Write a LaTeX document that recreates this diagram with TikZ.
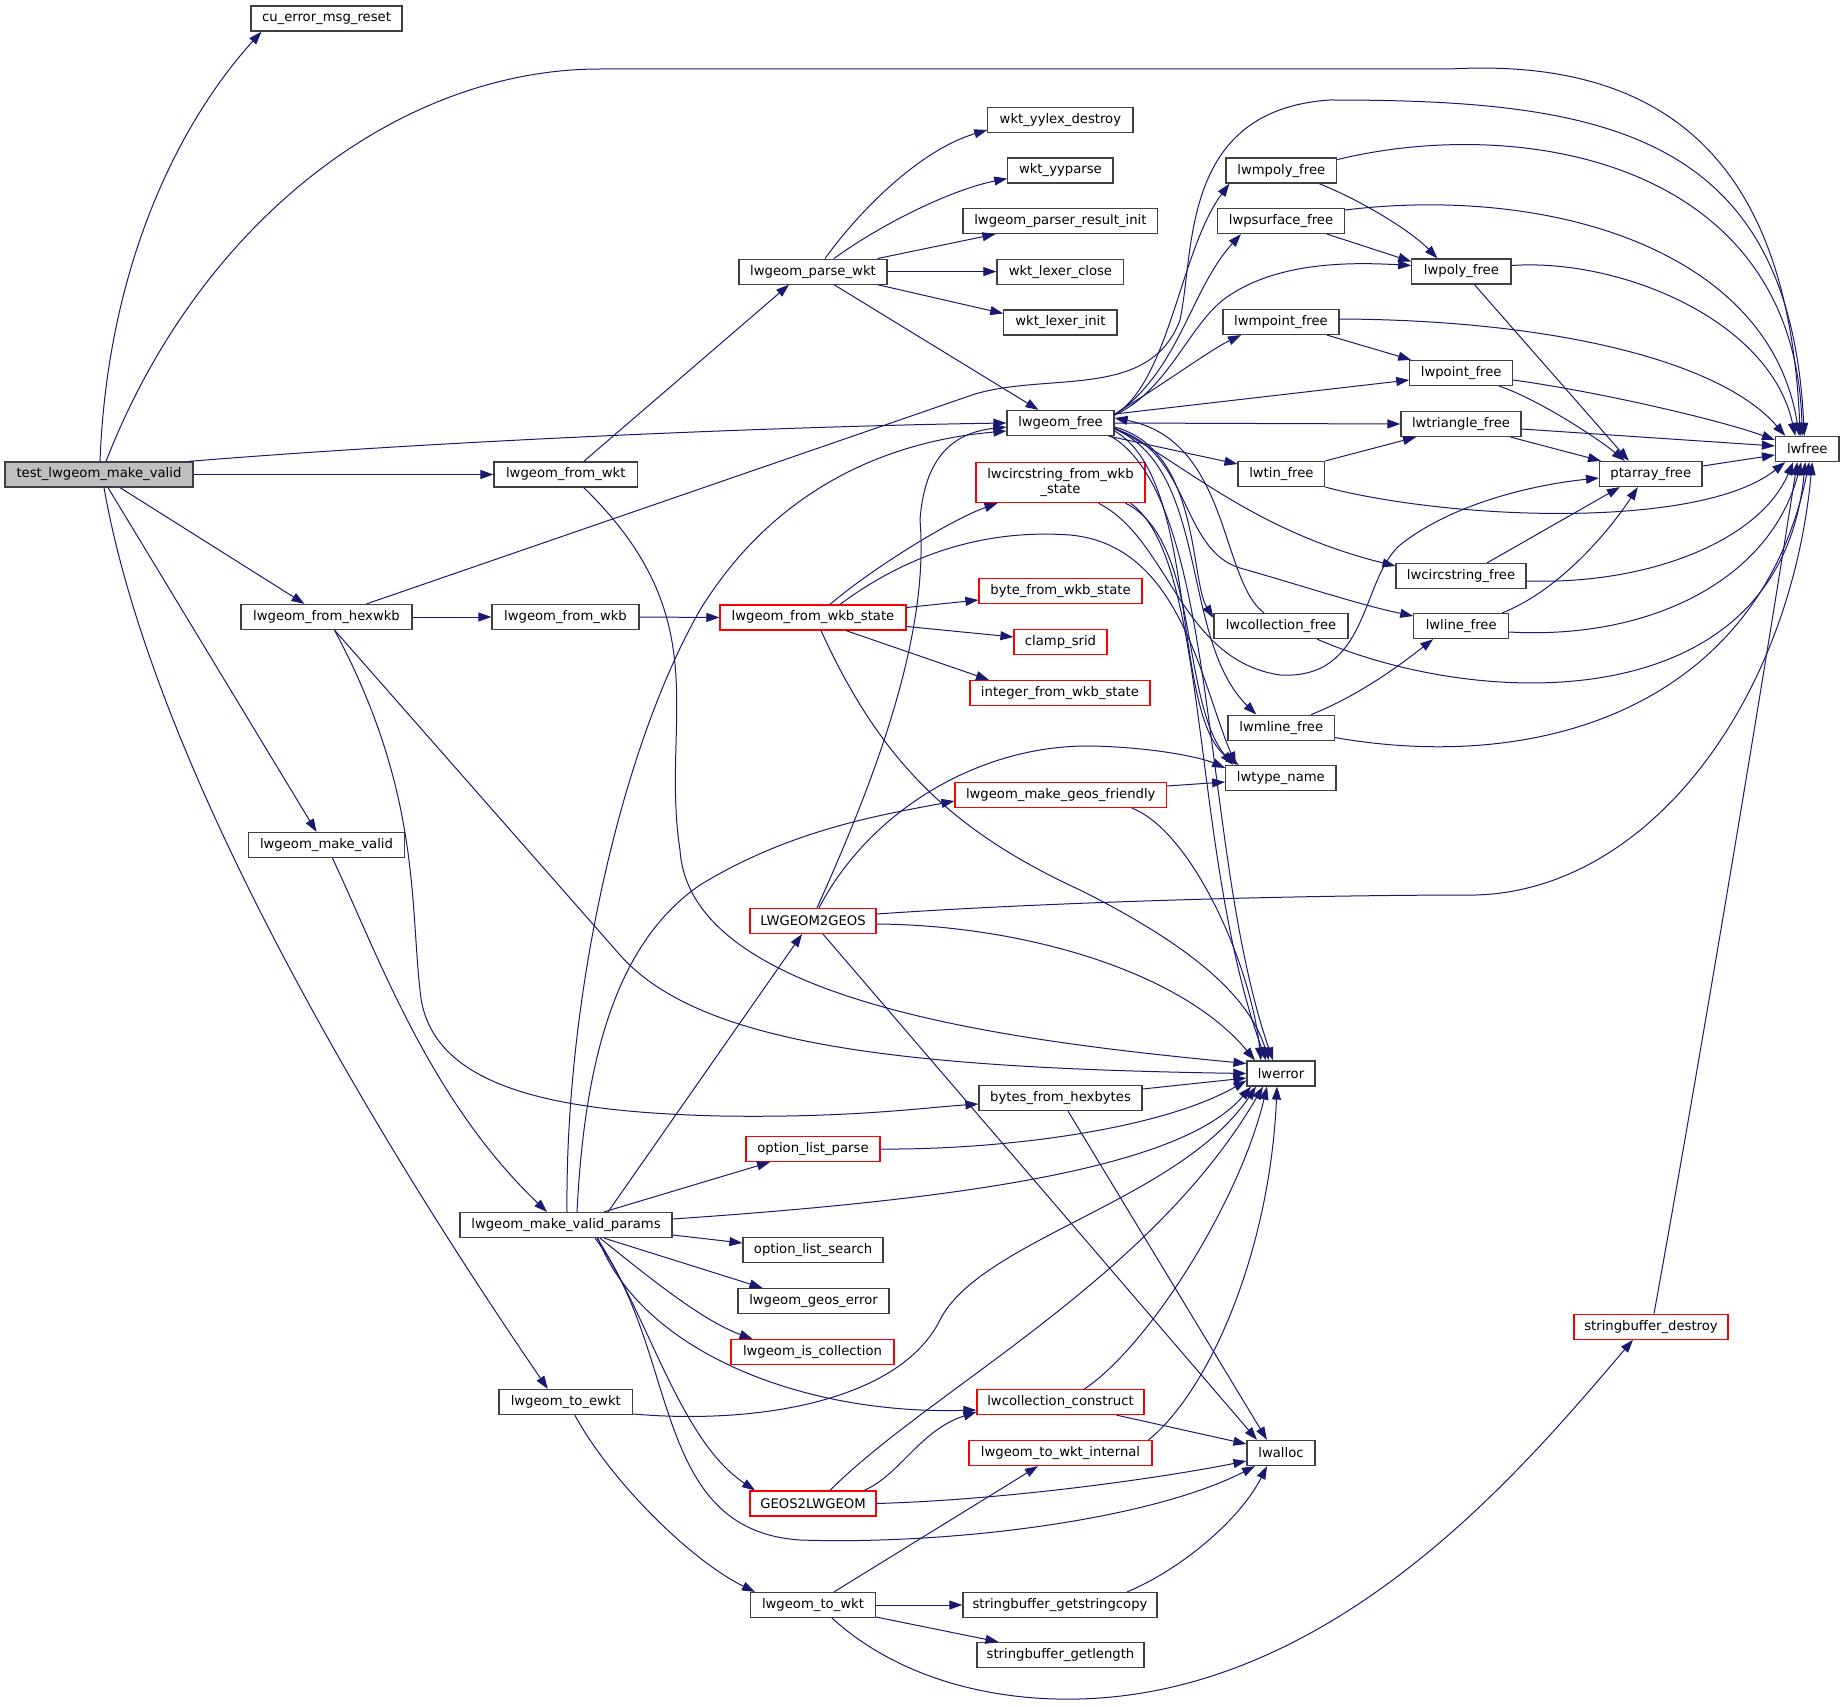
\documentclass[tikz,border=0pt]{standalone}
\usepackage{fontspec}
\usetikzlibrary{arrows.meta}
\newfontfamily\dv{DejaVu Sans}
\definecolor{nodeborder}{HTML}{404040}
\definecolor{edgec}{HTML}{191970}
\definecolor{trunc}{HTML}{FF0000}
\definecolor{rootfill}{HTML}{BFBFBF}
\tikzset{
  nd/.style={draw=nodeborder, fill=white, line width=1.2pt, minimum height=25pt, inner sep=0pt, text=black, font={\dv\fontsize{13.2}{14.5}\selectfont}},
  rn/.style={nd, draw=trunc},
  edg/.style={draw=edgec, line width=1pt, -{Triangle[length=13pt,width=9pt]}}
}
\begin{document}
\begin{tikzpicture}[x=1pt,y=-1pt]
\fill[white] (0,0) rectangle (1844,1707);
\useasboundingbox (0,0) rectangle (1844,1707);
% nodes
\node[nd, fill=rootfill, minimum width=188pt] (t) at (99,474.5) {test\_lwgeom\_make\_valid};
\node[nd, minimum width=151pt] (cu) at (326.5,18.6) {cu\_error\_msg\_reset};
\node[nd, minimum width=143.5pt] (fwkt) at (565.75,474.5) {lwgeom\_from\_wkt};
\node[nd, minimum width=171pt] (hex) at (326.5,617) {lwgeom\_from\_hexwkb};
\node[nd, minimum width=147pt] (fwkb) at (565.5,617) {lwgeom\_from\_wkb};
\node[nd, minimum width=156pt] (mv) at (326.5,845) {lwgeom\_make\_valid};
\node[nd, minimum width=212pt] (mvp) at (566,1225) {lwgeom\_make\_valid\_params};
\node[nd, minimum width=133.6pt] (ewkt) at (565.8,1402) {lwgeom\_to\_ewkt};
\node[nd, minimum width=148pt] (pw) at (813,271.6) {lwgeom\_parse\_wkt};
\node[nd, minimum width=145.2pt] (wyd) at (1060.4,120) {wkt\_yylex\_destroy};
\node[nd, minimum width=105.2pt] (wyp) at (1060.4,170.5) {wkt\_yyparse};
\node[nd, minimum width=194.8pt] (pri) at (1060.4,221) {lwgeom\_parser\_result\_init};
\node[nd, minimum width=126.8pt] (wlc) at (1060.4,271.6) {wkt\_lexer\_close};
\node[nd, minimum width=113.2pt] (wli) at (1060.4,322.5) {wkt\_lexer\_init};
\node[nd, minimum width=107pt] (lf) at (1060.5,423) {lwgeom\_free};
\node[rn, minimum width=169pt, minimum height=40pt, align=center] (lcws) at (1060.5,482.6) {lwcircstring\_from\_wkb\\\_state};
\node[rn, minimum width=186pt] (fws) at (813,617.5) {lwgeom\_from\_wkb\_state};
\node[rn, minimum width=163pt] (bfw) at (1060.5,591) {byte\_from\_wkb\_state};
\node[rn, minimum width=93pt] (cs) at (1060.5,642) {clamp\_srid};
\node[rn, minimum width=180pt] (ifw) at (1060,693) {integer\_from\_wkb\_state};
\node[rn, minimum width=211.5pt] (mgf) at (1060.75,795) {lwgeom\_make\_geos\_friendly};
\node[rn, minimum width=126pt] (l2g) at (813,921) {LWGEOM2GEOS};
\node[nd, minimum width=163pt] (bfh) at (1060.5,1098) {bytes\_from\_hexbytes};
\node[rn, minimum width=134pt] (olp) at (813,1149) {option\_list\_parse};
\node[nd, minimum width=140pt] (ols) at (813,1250) {option\_list\_search};
\node[nd, minimum width=151pt] (lge) at (813.5,1301) {lwgeom\_geos\_error};
\node[rn, minimum width=163pt] (lic) at (812.5,1352) {lwgeom\_is\_collection};
\node[rn, minimum width=167pt] (lcc) at (1060.5,1402) {lwcollection\_construct};
\node[rn, minimum width=183pt] (ltwi) at (1060.5,1453) {lwgeom\_to\_wkt\_internal};
\node[rn, minimum width=126pt] (g2l) at (813,1503.5) {GEOS2LWGEOM};
\node[nd, minimum width=125pt] (ltw) at (813,1605) {lwgeom\_to\_wkt};
\node[nd, minimum width=194pt] (sbgc) at (1060,1605) {stringbuffer\_getstringcopy};
\node[nd, minimum width=167pt] (sbgl) at (1060.5,1655) {stringbuffer\_getlength};
\node[nd, minimum width=110.6pt] (lmp) at (1281.3,170.6) {lwmpoly\_free};
\node[nd, minimum width=127pt] (lps) at (1281,221) {lwpsurface\_free};
\node[nd, minimum width=99.2pt] (lpy) at (1461.4,271.5) {lwpoly\_free};
\node[nd, minimum width=116pt] (lmpt) at (1281,322) {lwmpoint\_free};
\node[nd, minimum width=102.7pt] (lpt) at (1461.2,373) {lwpoint\_free};
\node[nd, minimum width=120pt] (ltf) at (1461,424) {lwtriangle\_free};
\node[nd, minimum width=86.7pt] (ltin) at (1281.4,474) {lwtin\_free};
\node[nd, minimum width=102.4pt] (pf) at (1650.8,474) {ptarray\_free};
\node[nd, minimum width=63.5pt] (lwf) at (1807.25,449) {lwfree};
\node[nd, minimum width=130pt] (lcf) at (1461,576) {lwcircstring\_free};
\node[nd, minimum width=134pt] (lcof) at (1281,626) {lwcollection\_free};
\node[nd, minimum width=94.7pt] (llf) at (1461.2,626) {lwline\_free};
\node[nd, minimum width=106.6pt] (lml) at (1281.3,727.6) {lwmline\_free};
\node[nd, minimum width=110.3pt] (ltn) at (1280.85,778) {lwtype\_name};
\node[nd, minimum width=68pt] (lwe) at (1281,1073.5) {lwerror};
\node[nd, minimum width=68pt] (lwa) at (1281,1453) {lwalloc};
\node[rn, minimum width=154pt] (sbd) at (1651,1326.7) {stringbuffer\_destroy};
% edges from test
\draw[edg] ([xshift=1pt]t.north) .. controls (108,250) and (190,110) .. ([xshift=-65pt]cu.south);
\draw[edg] ([xshift=7pt]t.north) .. controls (200,220) and (400,69) .. (600,69) -- (1450,69) .. controls (1700,55) and (1790,200) .. ([xshift=-7pt]lwf.north);
\draw[edg] ([xshift=-5pt]t.north east) .. controls (450,440) and (800,426) .. (lf.west);
\draw[edg] (t.east) -- (fwkt.west);
\draw[edg] ([xshift=21pt]t.south) -- ([xshift=-22pt]hex.north);
\draw[edg] ([xshift=9pt]t.south) -- ([xshift=-10pt]mv.north);
\draw[edg] ([xshift=5pt]t.south) .. controls (150,750) and (350,1100) .. ([xshift=-18pt]ewkt.north);
% from_wkt
\draw[edg] ([xshift=18pt]fwkt.north) -- ([xshift=-24pt]pw.south);
\draw[edg] ([xshift=18pt]fwkt.south) .. controls (720,620) and (660,720) .. (680,850) .. controls (690,1000) and (1000,1040) .. ([yshift=10pt]lwe.west);
% hexwkb
\draw[edg] (hex.east) -- (fwkb.west);
\draw[edg] ([xshift=40pt]hex.north) -- (975,394) .. controls (1050,372) and (1150,400) .. (1180,320) .. controls (1195,250) and (1180,110) .. (1330,100) .. controls (1600,100) and (1790,130) .. ([xshift=-3pt]lwf.north);
\draw[edg] ([xshift=8pt]hex.south) -- (620,955) .. controls (700,1045) and (900,1068) .. (lwe.west);
\draw[edg] ([xshift=8pt]hex.south) .. controls (420,790) and (410,900) .. (420,990) .. controls (428,1090) and (560,1112) .. (720,1116) .. controls (850,1118) and (920,1108) .. ([yshift=-6pt]bfh.west);
% make_valid
\draw[edg] ([xshift=6pt]mv.south) .. controls (380,960) and (430,1100) .. ([xshift=-19pt]mvp.north);
% to_ewkt
\draw[edg] ([yshift=-12pt]ewkt.east) .. controls (760,1425) and (900,1400) .. (940,1320) .. controls (980,1240) and (1180,1200) .. ([xshift=-25pt]lwe.south);
\draw[edg] ([xshift=9pt]ewkt.south) .. controls (610,1480) and (690,1560) .. ([xshift=-58pt]ltw.north);
% make_valid_params
\draw[edg] ([xshift=1pt]mvp.north) .. controls (565,1000) and (620,750) .. (700,610) .. controls (780,480) and (900,440) .. ([yshift=-8pt]lf.west);
\draw[edg] ([xshift=11pt]mvp.north) .. controls (585,1050) and (620,940) .. (700,885) .. controls (790,830) and (880,815) .. ([yshift=-6pt]mgf.west);
\draw[edg] ([xshift=42pt]mvp.north) -- ([xshift=-11pt]l2g.south);
\draw[edg] ([xshift=38pt]mvp.north) -- ([xshift=-43pt]olp.south);
\draw[edg] ([yshift=6pt]mvp.east) .. controls (950,1200) and (1180,1170) .. ([xshift=-30pt]lwe.south);
\draw[edg] ([yshift=-10pt]mvp.east) -- ([yshift=7pt]ols.west);
\draw[edg] ([xshift=38pt]mvp.south) -- ([xshift=-51pt]lge.north);
\draw[edg] ([xshift=34pt]mvp.south) .. controls (640,1270) and (700,1320) .. ([xshift=-60pt]lic.north);
\draw[edg] ([xshift=32pt]mvp.south) .. controls (640,1350) and (800,1415) .. ([yshift=-8pt]lcc.west);
\draw[edg] ([xshift=31pt]mvp.south) .. controls (650,1320) and (680,1440) .. ([xshift=-58pt]g2l.north);
\draw[edg] ([xshift=29pt]mvp.south) .. controls (680,1350) and (650,1530) .. (800,1540) .. controls (950,1545) and (1150,1520) .. ([xshift=-26pt]lwa.south);
% parse_wkt
\draw[edg] ([xshift=12pt]pw.north) .. controls (860,210) and (920,150) .. ([yshift=-10pt]wyd.west);
\draw[edg] ([xshift=21pt]pw.north) .. controls (880,225) and (950,190) .. ([yshift=-8pt]wyp.west);
\draw[edg] ([xshift=-10pt]pw.north east) -- ([xshift=-65pt]pri.south);
\draw[edg] (pw.east) -- (wlc.west);
\draw[edg] ([xshift=-10pt]pw.south east) -- ([yshift=9pt]wli.west);
\draw[edg] ([xshift=21pt]pw.south) -- ([xshift=-22pt]lf.north);
% from_wkb
\draw[edg] (fwkb.east) -- (fws.west);
% from_wkb_state
\draw[edg] ([xshift=17pt]fws.north) .. controls (870,570) and (950,520) .. ([xshift=-63pt]lcws.south);
\draw[edg] ([yshift=10pt]fws.east) -- ([yshift=-9pt]bfw.west);
\draw[edg] ([yshift=-9pt]fws.east) -- ([yshift=5pt]cs.west);
\draw[edg] ([xshift=33pt]fws.south) -- ([xshift=-71pt]ifw.north);
\draw[edg] ([xshift=8pt]fws.south) .. controls (880,760) and (950,830) .. (1080,890) .. controls (1200,950) and (1250,1000) .. ([xshift=-12pt]lwe.north);
\draw[edg] ([xshift=27pt]fws.north) .. controls (920,545) and (1000,530) .. (1070,535) .. controls (1180,545) and (1200,680) .. ([xshift=-45pt]ltn.north);
% lwcircstring_from_wkb_state
\draw[edg] ([xshift=38pt]lcws.south) .. controls (1170,540) and (1180,660) .. (1280,675) .. controls (1370,680) and (1360,580) .. (1400,545) .. controls (1450,505) and (1530,485) .. ([yshift=-4pt]pf.west);
\draw[edg] ([xshift=65pt]lcws.south) .. controls (1200,540) and (1180,700) .. ([xshift=-48pt]ltn.north);
\draw[edg] ([xshift=70pt]lcws.south) .. controls (1210,560) and (1190,850) .. ([xshift=-15pt]lwe.north);
% lwgeom_free
\draw[edg] ([yshift=8pt]lf.east) .. controls (1170,380) and (1180,250) .. ([xshift=4pt]lmp.south west);
\draw[edg] ([yshift=8pt]lf.east) .. controls (1180,370) and (1190,290) .. ([xshift=-40pt]lps.south);
\draw[edg] ([yshift=8pt]lf.east) .. controls (1170,390) and (1190,320) .. (1230,295) .. controls (1280,262) and (1350,262) .. ([yshift=6pt]lpy.west);
\draw[edg] ([yshift=9pt]lf.east) .. controls (1170,380) and (1210,350) .. ([xshift=-40pt]lmpt.south);
\draw[edg] ([yshift=9pt]lf.east) -- ([yshift=-7pt]lpt.west);
\draw[edg] (lf.east) -- (ltf.west);
\draw[edg] ([xshift=-6pt]lf.south east) -- ([yshift=10pt]ltin.west);
\draw[edg] ([yshift=-5pt]lf.east) .. controls (1180,460) and (1250,530) .. ([yshift=10pt]lcf.west);
\draw[edg] ([yshift=-6pt]lf.east) .. controls (1190,450) and (1180,550) .. (1240,568) .. controls (1300,585) and (1360,605) .. ([yshift=10pt]llf.west);
\draw[edg] ([yshift=-4pt]lf.east) .. controls (1200,450) and (1190,580) .. ([yshift=8pt]lcof.west);
\draw[edg] ([yshift=-6pt]lf.east) .. controls (1210,470) and (1180,640) .. ([xshift=-25pt]lml.north);
\draw[edg] ([yshift=-8pt]lf.east) .. controls (1200,480) and (1170,720) .. ([xshift=-42pt]ltn.north);
\draw[edg] ([xshift=-4pt]lf.south east) .. controls (1220,500) and (1200,850) .. ([xshift=-8pt]lwe.north);
\draw[edg] ([xshift=-17pt]lcof.north) .. controls (1220,580) and (1230,440) .. ([yshift=5pt]lf.east);
% right cluster
\draw[edg] ([xshift=38pt]lmp.south) .. controls (1360,200) and (1410,230) .. ([xshift=-24pt]lpy.north);
\draw[edg] ([yshift=11pt]lmp.east) .. controls (1520,115) and (1795,160) .. ([xshift=-5pt]lwf.north);
\draw[edg] ([xshift=46pt]lps.south) -- ([yshift=10pt]lpy.west);
\draw[edg] ([yshift=11pt]lps.east) .. controls (1550,185) and (1770,250) .. ([xshift=-8pt]lwf.north);
\draw[edg] ([xshift=13pt]lpy.south) -- ([xshift=-22pt]pf.north);
\draw[edg] ([yshift=6pt]lpy.east) .. controls (1620,258) and (1770,320) .. ([xshift=-12pt]lwf.north);
\draw[edg] ([xshift=46pt]lmpt.south) -- ([xshift=-50pt]lpt.north);
\draw[edg] ([yshift=3pt]lmpt.east) .. controls (1550,320) and (1720,360) .. ([xshift=-22pt]lwf.north);
\draw[edg] ([xshift=38pt]lpt.south) .. controls (1540,400) and (1600,440) .. ([xshift=-26pt]pf.north);
\draw[edg] ([yshift=-7pt]lpt.east) .. controls (1600,392) and (1720,420) .. ([yshift=9pt]lwf.west);
\draw[edg] ([xshift=-11pt]ltf.south east) -- ([xshift=2pt]pf.north west);
\draw[edg] ([yshift=-5pt]ltf.east) -- ([yshift=3pt]lwf.west);
\draw[edg] ([yshift=8pt]pf.east) -- ([yshift=-6pt]lwf.west);
\draw[edg] (ltin.north east) -- ([xshift=-45pt]ltf.south);
\draw[edg] (ltin.south east) .. controls (1450,520) and (1700,530) .. ([xshift=-22pt]lwf.south);
\draw[edg] ([xshift=26pt]lcf.north) -- ([xshift=-31pt]pf.south);
\draw[edg] ([yshift=-5pt]lcf.east) .. controls (1650,585) and (1760,540) .. ([xshift=-14pt]lwf.south);
\draw[edg] ([xshift=41pt]llf.north) .. controls (1560,590) and (1610,530) .. ([xshift=-13pt]pf.south);
\draw[edg] ([yshift=-6pt]llf.east) .. controls (1650,640) and (1770,580) .. ([xshift=-6pt]lwf.south);
\draw[edg] ([xshift=36pt]lcof.south) .. controls (1480,710) and (1780,720) .. ([xshift=-2pt]lwf.south);
\draw[edg] ([xshift=30pt]lml.north) .. controls (1360,695) and (1400,665) .. ([xshift=-28pt]llf.south);
\draw[edg] ([yshift=-10pt]lml.east) .. controls (1550,775) and (1760,700) .. ([xshift=2pt]lwf.south);
% LWGEOM2GEOS
\draw[edg] ([yshift=7pt]l2g.east) .. controls (1050,902) and (1300,895) .. (1476,895) .. controls (1650,890) and (1790,700) .. ([xshift=5pt]lwf.south);
\draw[edg] ([yshift=-3pt]l2g.east) .. controls (1020,925) and (1180,970) .. ([xshift=-26pt]lwe.north);
\draw[edg] ([xshift=10pt]l2g.south) -- ([xshift=-24pt]lwa.north);
\draw[edg] ([xshift=6pt]l2g.north) .. controls (870,810) and (980,745) .. (1090,746) .. controls (1150,747) and (1200,757) .. ([yshift=10pt]ltn.west);
\draw[edg] ([xshift=4pt]l2g.north) .. controls (870,790) and (930,640) .. (920,520) .. controls (925,450) and (960,432) .. ([yshift=-4pt]lf.west);
% geos_friendly
\draw[edg] ([yshift=9pt]mgf.east) -- ([yshift=-4pt]ltn.west);
\draw[edg] ([xshift=71pt]mgf.south) .. controls (1190,830) and (1250,960) .. ([xshift=-20pt]lwe.north);
% bytes_from_hexbytes
\draw[edg] ([yshift=9pt]bfh.east) -- ([yshift=-4.5pt]lwe.west);
\draw[edg] ([xshift=7.5pt]bfh.south) -- ([xshift=-14pt]lwa.north);
% option_list_parse
\draw[edg] (olp.east) .. controls (1000,1150) and (1160,1130) .. ([yshift=-7pt]lwe.west);
% lwcollection_construct
\draw[edg] ([xshift=24pt]lcc.north) .. controls (1150,1345) and (1240,1200) .. ([xshift=-14pt]lwe.south);
\draw[edg] ([xshift=56pt]lcc.south) -- ([yshift=9pt]lwa.west);
% to_wkt_internal
\draw[edg] ([xshift=88pt]ltwi.north) .. controls (1210,1390) and (1270,1250) .. ([xshift=-4pt]lwe.south);
% GEOS2LWGEOM
\draw[edg] ([xshift=51pt]g2l.north) .. controls (900,1475) and (920,1430) .. ([yshift=-10pt]lcc.west);
\draw[edg] ([xshift=17pt]g2l.north) .. controls (930,1390) and (1150,1280) .. ([xshift=-18pt]lwe.south);
\draw[edg] (g2l.east) .. controls (1000,1500) and (1150,1480) .. ([yshift=-8pt]lwa.west);
% to_wkt
\draw[edg] ([xshift=21pt]ltw.north) -- ([xshift=-22.5pt]ltwi.south);
\draw[edg] (ltw.east) -- (sbgc.west);
\draw[edg] ([yshift=-12pt]ltw.east) -- ([xshift=-62pt]sbgl.north);
\draw[edg] ([xshift=67pt]sbgc.north) .. controls (1180,1570) and (1240,1520) .. ([xshift=-14pt]lwa.south);
\draw[edg] ([xshift=19pt]ltw.south) .. controls (900,1680) and (1000,1705) .. (1100,1698) .. controls (1350,1680) and (1530,1460) .. ([xshift=-18pt]sbd.south);
\draw[edg] ([xshift=3pt]sbd.north) .. controls (1700,1060) and (1760,700) .. ([xshift=-10pt]lwf.south);
\end{tikzpicture}
\end{document}
